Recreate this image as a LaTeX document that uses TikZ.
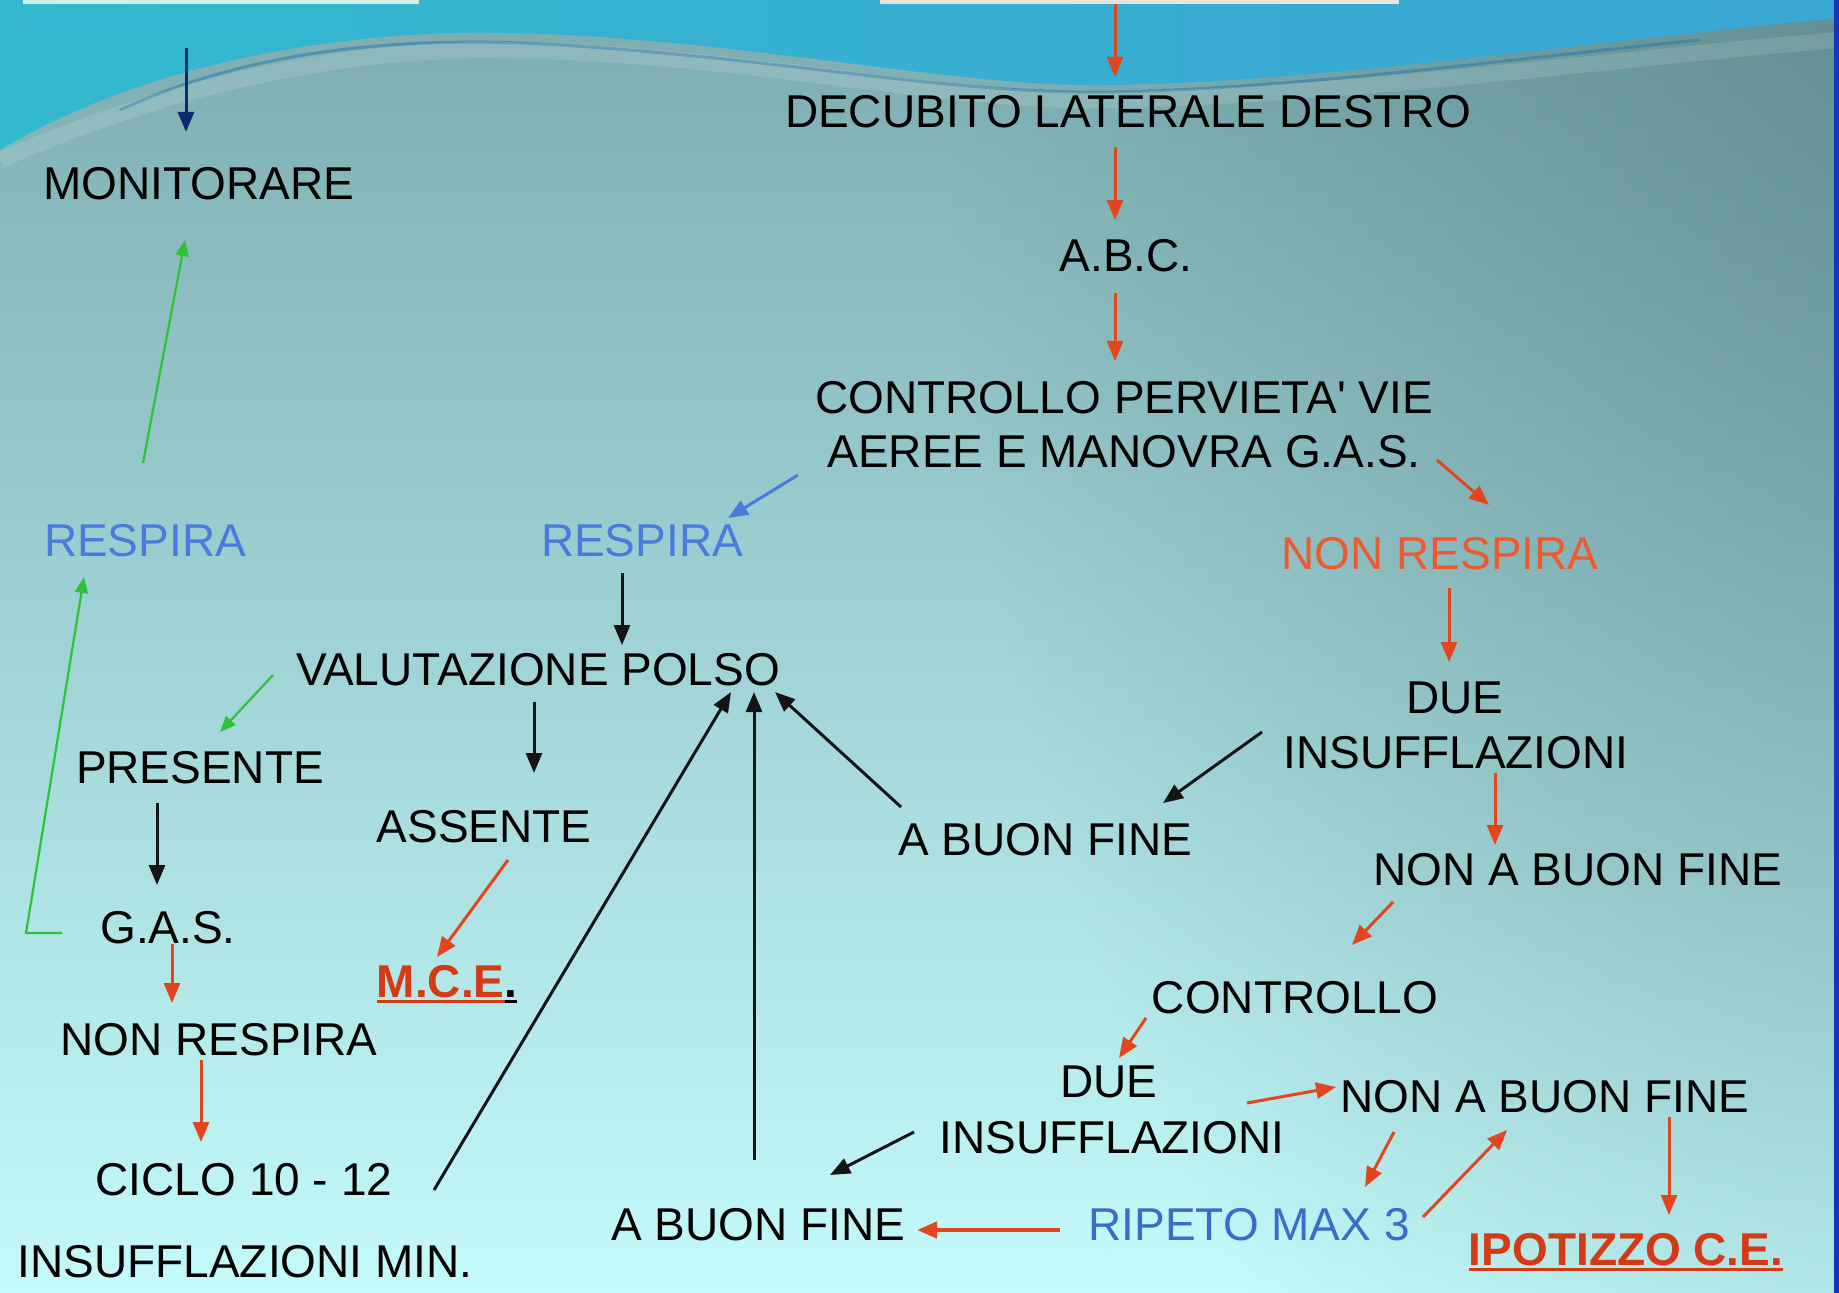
\documentclass[tikz,border=0pt]{standalone}
\usepackage{fontspec}
\setmainfont{Liberation Sans}
\usetikzlibrary{arrows.meta,fadings}
\definecolor{bgtop}{HTML}{7CACB0}
\definecolor{bgmid}{HTML}{A6D9DA}
\definecolor{bgbot}{HTML}{C4FAFA}
\definecolor{darkteal}{HTML}{3A6468}
\definecolor{wavel}{HTML}{33B8CF}
\definecolor{wavem}{HTML}{5EA6B6}
\definecolor{waver}{HTML}{3AA6D4}
\definecolor{streak}{HTML}{2F78A8}
\definecolor{edgeblue}{HTML}{1636B8}
\definecolor{arrred}{HTML}{E2461E}
\definecolor{txtorange}{HTML}{EE5A30}
\definecolor{respblue}{HTML}{4A7BDC}
\definecolor{ripblue}{HTML}{3A6CC8}
\definecolor{grn}{HTML}{2DC23A}
\definecolor{navy}{HTML}{0C2C70}
\definecolor{mcered}{HTML}{D43A16}
\definecolor{boxmint}{HTML}{CFF0E2}
\definecolor{boxgray}{HTML}{E6E4DE}
\newsavebox\ulsave
\newcommand\ulbox[1]{\sbox\ulsave{#1}\rlap{\rule[-3pt]{\wd\ulsave}{1.5pt}}\usebox\ulsave}
\tikzfading[name=radfade, inner color=transparent!0, outer color=transparent!100]
\newcommand\fs{\fontsize{23}{27}\selectfont}
\begin{document}
\begin{tikzpicture}[x=0.5pt,y=-0.5pt,
  txt/.style={font=\fs, inner sep=0pt, anchor=base},
  arr/.style={-{Triangle[length=10pt,width=8pt]}, line width=1.5pt},
  ra/.style={arr, draw=arrred},
  ba/.style={arr, draw=black!92},
  ga/.style={-{Triangle[length=8pt,width=6.5pt]}, line width=1.1pt, draw=grn},
  na/.style={arr, draw=navy},
  bla/.style={arr, draw=respblue}]
% background
\useasboundingbox (0,0) rectangle (1839,1293);
\shade[top color=bgtop, middle color=bgmid, bottom color=bgbot] (0,0) rectangle (1839,1293);
\fill[darkteal, opacity=0.45, path fading=radfade] (1950,80) ellipse [x radius=1000, y radius=1700];
\shade[left color=wavel, middle color=wavem, right color=waver]
  (0,0) -- (0,150) .. controls (100,90) and (250,40) .. (450,33)
  .. controls (700,28) and (950,90) .. (1115,85)
  .. controls (1350,80) and (1600,40) .. (1839,18) -- (1839,0) -- cycle;
\draw[streak, line width=1.5pt, opacity=0.55] (120,110) .. controls (250,50) and (400,35) .. (560,45)
  .. controls (800,60) and (950,95) .. (1115,92) .. controls (1300,88) and (1500,60) .. (1700,40);
\draw[white, line width=8pt, opacity=0.12] (0,160) .. controls (150,95) and (300,55) .. (470,50)
  .. controls (720,48) and (950,105) .. (1115,100) .. controls (1350,95) and (1600,60) .. (1839,40);
\fill[edgeblue] (1834,0) rectangle (1839,1293);
\fill[boxmint] (23,0) rectangle (419,4);
\fill[boxgray] (880,0) rectangle (1399,4);
% texts
\node[txt] (mon) at (199,200) {MONITORARE};
\node[txt] (dec) at (1128,128) {DECUBITO LATERALE DESTRO};
\node[txt] (abc) at (1126,272) {A.B.C.};
\node[txt] (ctlA) at (1124,414) {CONTROLLO PERVIETA\textquotesingle{} VIE};
\node[txt] (ctlB) at (1124,468) {AEREE E MANOVRA G.A.S.};
\node[txt, text=respblue] (respL) at (145,557) {RESPIRA};
\node[txt, text=respblue] (respM) at (642,557) {RESPIRA};
\node[txt, text=txtorange] (nrR) at (1440,569) {NON RESPIRA};
\node[txt] (val) at (538,685) {VALUTAZIONE POLSO};
\node[txt] (dueA) at (1455,713) {DUE};
\node[txt] (insA) at (1456,768) {INSUFFLAZIONI};
\node[txt] (pres) at (200,783) {PRESENTE};
\node[txt] (ass) at (484,842) {ASSENTE};
\node[txt] (abfA) at (1045,855) {A BUON FINE};
\node[txt] (nabfA) at (1578,885) {NON A BUON FINE};
\node[txt] (gas) at (168,943) {G.A.S.};
\node[txt] (mce) at (447,997) {\bfseries\textcolor{mcered}{\ulbox{M.C.E}}\ulbox{.}};
\node[txt] (cont) at (1295,1013) {CONTROLLO};
\node[txt] (nrL) at (219,1055) {NON RESPIRA};
\node[txt] (dueB) at (1109,1097) {DUE};
\node[txt] (insB) at (1112,1153) {INSUFFLAZIONI};
\node[txt] (nabfB) at (1545,1112) {NON A BUON FINE};
\node[txt] (ciclo) at (244,1195) {CICLO 10 - 12};
\node[txt] (abfB) at (758,1240) {A BUON FINE};
\node[txt, text=ripblue] (rip) at (1249,1240) {RIPETO MAX 3};
\node[txt, text=mcered] (ipo) at (1626,1265) {\bfseries\ulbox{IPOTIZZO C.E.}};
\node[txt] (insmin) at (245,1277) {INSUFFLAZIONI MIN.};
% connector end points
\coordinate (a1s) at (186,48);   \coordinate (a1e) at (186,132);
\coordinate (a2s) at (1115,4);   \coordinate (a2e) at (1115,77);
\coordinate (a3s) at (1115,147); \coordinate (a3e) at (1115,220);
\coordinate (a4s) at (1115,293); \coordinate (a4e) at (1115,361);
\coordinate (a5s) at (798,475);  \coordinate (a5e) at (728,518);
\coordinate (a6s) at (1437,460); \coordinate (a6e) at (1489,505);
\coordinate (a7s) at (143,463);  \coordinate (a7e) at (185,240);
\coordinate (a8s) at (622,573);  \coordinate (a8e) at (622,645);
\coordinate (a9s) at (273,675);  \coordinate (a9e) at (220,732);
\coordinate (a10s) at (534,702); \coordinate (a10e) at (534,773);
\coordinate (a11s) at (1449,588); \coordinate (a11e) at (1449,662);
\coordinate (a12s) at (1262,732); \coordinate (a12e) at (1163,803);
\coordinate (a13s) at (901,807); \coordinate (a13e) at (775,692);
\coordinate (a14s) at (434,1190); \coordinate (a14e) at (731,692);
\coordinate (a15s) at (754,1160); \coordinate (a15e) at (754,692);
\coordinate (a16s) at (157,803); \coordinate (a16e) at (157,885);
\coordinate (a17s) at (62,933);  \coordinate (a17m) at (26,933); \coordinate (a17e) at (84,577);
\coordinate (a18s) at (1495,773); \coordinate (a18e) at (1495,845);
\coordinate (a19s) at (508,860); \coordinate (a19e) at (437,957);
\coordinate (a20s) at (1393,902); \coordinate (a20e) at (1352,945);
\coordinate (a21s) at (172,944); \coordinate (a21e) at (172,1003);
\coordinate (a22s) at (1146,1018); \coordinate (a22e) at (1119,1058);
\coordinate (a23s) at (201,1060); \coordinate (a23e) at (201,1142);
\coordinate (a24s) at (1247,1103); \coordinate (a24e) at (1336,1087);
\coordinate (a25s) at (914,1132); \coordinate (a25e) at (830,1175);
\coordinate (a26s) at (1394,1132); \coordinate (a26e) at (1365,1187);
\coordinate (a27s) at (1423,1217); \coordinate (a27e) at (1507,1130);
\coordinate (a28s) at (1669,1117); \coordinate (a28e) at (1669,1215);
\coordinate (a29s) at (1060,1230); \coordinate (a29e) at (917,1230);
% connectors
\draw[na] (a1s) -- (a1e);
\draw[ra] (a2s) -- (a2e);
\draw[ra] (a3s) -- (a3e);
\draw[ra] (a4s) -- (a4e);
\draw[bla] (a5s) -- (a5e);
\draw[ra] (a6s) -- (a6e);
\draw[ga] (a7s) -- (a7e);
\draw[ba] (a8s) -- (a8e);
\draw[ga] (a9s) -- (a9e);
\draw[ba] (a10s) -- (a10e);
\draw[ra] (a11s) -- (a11e);
\draw[ba] (a12s) -- (a12e);
\draw[ba] (a13s) -- (a13e);
\draw[ba] (a14s) -- (a14e);
\draw[ba] (a15s) -- (a15e);
\draw[ba] (a16s) -- (a16e);
\draw[ga] (a17s) -- (a17m) -- (a17e);
\draw[ra] (a18s) -- (a18e);
\draw[ra] (a19s) -- (a19e);
\draw[ra] (a20s) -- (a20e);
\draw[ra] (a21s) -- (a21e);
\draw[ra] (a22s) -- (a22e);
\draw[ra] (a23s) -- (a23e);
\draw[ra] (a24s) -- (a24e);
\draw[ba] (a25s) -- (a25e);
\draw[ra] (a26s) -- (a26e);
\draw[ra] (a27s) -- (a27e);
\draw[ra] (a28s) -- (a28e);
\draw[ra, line width=2.2pt] (a29s) -- (a29e);
\end{tikzpicture}
\end{document}
